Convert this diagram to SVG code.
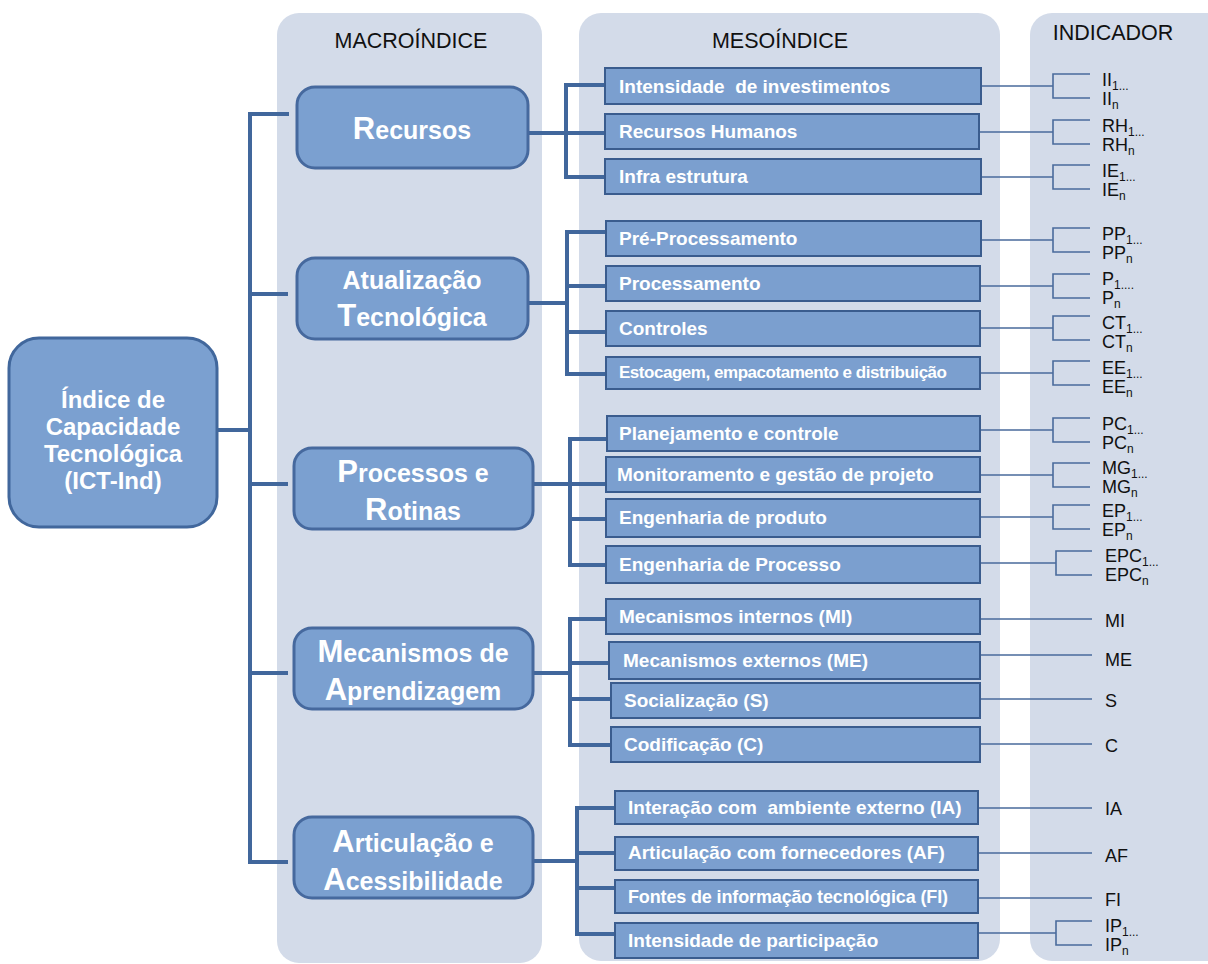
<svg xmlns="http://www.w3.org/2000/svg" width="1208" height="964" viewBox="0 0 1208 964">
<style>
.panel{fill:#D3DBE9}
.hdr{font-family:"Liberation Sans",Arial,sans-serif;font-size:21.5px;fill:#111;text-anchor:middle}
.root{fill:#7BA0D0;stroke:#41679C;stroke-width:3}
.macro{fill:#7BA0D0;stroke:#46699E;stroke-width:3}
.meso{fill:#7B9FCF;stroke:#3A5C8E;stroke-width:2}
.wt{font-family:"Liberation Sans",Arial,sans-serif;font-weight:bold;fill:#fff}
.ct{text-anchor:middle}
.rt{font-size:24px}
.mt{font-size:25px}
.cap{font-size:31px}
.st{font-size:19px}
.lk{fill:none;stroke:#41679C;stroke-width:4}
.ind{fill:none;stroke:#4A6B9C;stroke-width:1.6}
.it{font-family:"Liberation Sans",Arial,sans-serif;font-size:18px;fill:#111}
.sub{font-size:12px}
</style>

<!-- column panels -->
<g id="panels">
<rect class="panel" x="277" y="13" width="265" height="950" rx="22"/>
<rect class="panel" x="579" y="13" width="421" height="948" rx="22"/>
<rect class="panel" x="1030" y="13" width="200" height="948" rx="22"/>
<text class="hdr" x="411" y="48">MACROÍNDICE</text>
<text class="hdr" x="780" y="48">MESOÍNDICE</text>
<text class="hdr" x="1113" y="40">INDICADOR</text>
</g>

<!-- connectors -->
<g id="connectors">
<path class="lk" d="M217 430 H250"/>
<path class="lk" d="M289 114 H250 V862 H288 M250 294 H288 M250 484 H288 M250 673 H288"/>
<path class="lk" d="M605 85 H566 V177 H605 M528 133 H605"/>
<path class="lk" d="M606 232 H567 V374 H606 M528 303 H567 M567 286 H606 M567 332 H606"/>
<path class="lk" d="M607 439 H570 V565 H607 M533 484 H607 M570 519 H607"/>
<path class="lk" d="M606 619 H570 V745 H611 M533 673 H570 M570 663 H609 M570 699 H611"/>
<path class="lk" d="M615 808 H577 V934 H615 M533 861 H577 M577 853 H615 M577 888 H615"/>
<!-- indicator links -->
<path class="ind" d="M981 86 H1053 M1090 74 H1053 V98 H1090"/>
<path class="ind" d="M979 132 H1053 M1090 120 H1053 V144 H1090"/>
<path class="ind" d="M981 177 H1053 M1090 165 H1053 V189 H1090"/>
<path class="ind" d="M981 240 H1053 M1090 228 H1053 V252 H1090"/>
<path class="ind" d="M980 286 H1053 M1090 274 H1053 V298 H1090"/>
<path class="ind" d="M980 328 H1053 M1090 316 H1053 V340 H1090"/>
<path class="ind" d="M980 373 H1053 M1090 361 H1053 V385 H1090"/>
<path class="ind" d="M980 430 H1053 M1090 418 H1053 V442 H1090"/>
<path class="ind" d="M980 475 H1053 M1090 463 H1053 V487 H1090"/>
<path class="ind" d="M980 517 H1053 M1090 505 H1053 V529 H1090"/>
<path class="ind" d="M980 563 H1056 M1092 551 H1056 V575 H1092"/>
<path class="ind" d="M980 619 H1092 M980 655 H1092 M980 699 H1092 M980 744 H1092"/>
<path class="ind" d="M978 808 H1092 M978 853 H1092 M978 898 H1092"/>
<path class="ind" d="M978 933 H1056 M1092 921 H1056 V945 H1092"/>
</g>

<!-- root index -->
<g id="root">
<rect class="root" x="9" y="338" width="208" height="189" rx="30"/>
<text class="wt ct rt" x="113" y="408">Índice de</text>
<text class="wt ct rt" x="113" y="435">Capacidade</text>
<text class="wt ct rt" x="113" y="462">Tecnológica</text>
<text class="wt ct rt" x="113" y="489">(ICT-Ind)</text>
</g>

<!-- macro indices -->
<g id="macro-recursos">
<rect class="macro" x="297" y="87" width="231" height="81" rx="18"/>
<text class="wt ct mt" x="412" y="139"><tspan class="cap">R</tspan>ecursos</text>
</g>
<g id="macro-atualizacao">
<rect class="macro" x="297" y="258" width="231" height="81" rx="18"/>
<text class="wt ct mt" x="412" y="289">Atualização</text>
<text class="wt ct mt" x="412" y="326"><tspan class="cap">T</tspan>ecnológica</text>
</g>
<g id="macro-processos">
<rect class="macro" x="294" y="448" width="239" height="81" rx="18"/>
<text class="wt ct mt" x="413" y="482"><tspan class="cap">P</tspan>rocessos e</text>
<text class="wt ct mt" x="413" y="520"><tspan class="cap">R</tspan>otinas</text>
</g>
<g id="macro-mecanismos">
<rect class="macro" x="294" y="628" width="239" height="81" rx="18"/>
<text class="wt ct mt" x="413" y="662"><tspan class="cap">M</tspan>ecanismos de</text>
<text class="wt ct mt" x="413" y="700"><tspan class="cap">A</tspan>prendizagem</text>
</g>
<g id="macro-articulacao">
<rect class="macro" x="294" y="817" width="239" height="81" rx="18"/>
<text class="wt ct mt" x="413" y="852"><tspan class="cap">A</tspan>rticulação e</text>
<text class="wt ct mt" x="413" y="890"><tspan class="cap">A</tspan>cessibilidade</text>
</g>

<!-- meso indices -->
<g id="meso-ii"><rect class="meso" x="605" y="68" width="376" height="36"/><text class="wt st" x="619" y="93" xml:space="preserve">Intensidade  de investimentos</text></g>
<g id="meso-rh"><rect class="meso" x="605" y="114" width="374" height="35"/><text class="wt st" x="619" y="138">Recursos Humanos</text></g>
<g id="meso-ie"><rect class="meso" x="605" y="159" width="376" height="35"/><text class="wt st" x="619" y="183">Infra estrutura</text></g>

<g id="meso-pp"><rect class="meso" x="606" y="221" width="375" height="35"/><text class="wt st" x="619" y="245">Pré-Processamento</text></g>
<g id="meso-p"><rect class="meso" x="606" y="266" width="374" height="35"/><text class="wt st" x="619" y="290">Processamento</text></g>
<g id="meso-ct"><rect class="meso" x="606" y="311" width="374" height="35"/><text class="wt st" x="619" y="335">Controles</text></g>
<g id="meso-ee"><rect class="meso" x="606" y="357" width="374" height="32"/><text class="wt" x="619" y="378" font-size="17" textLength="328" lengthAdjust="spacing">Estocagem, empacotamento e distribuição</text></g>

<g id="meso-pc"><rect class="meso" x="607" y="416" width="373" height="35"/><text class="wt st" x="619" y="440">Planejamento e controle</text></g>
<g id="meso-mg"><rect class="meso" x="606" y="457" width="374" height="35"/><text class="wt st" x="617" y="481">Monitoramento e gestão de projeto</text></g>
<g id="meso-ep"><rect class="meso" x="606" y="499" width="374" height="38"/><text class="wt st" x="619" y="524">Engenharia de produto</text></g>
<g id="meso-epc"><rect class="meso" x="606" y="546" width="374" height="37"/><text class="wt st" x="619" y="571">Engenharia de Processo</text></g>

<g id="meso-mi"><rect class="meso" x="606" y="599" width="374" height="35"/><text class="wt st" x="619" y="623">Mecanismos internos (MI)</text></g>
<g id="meso-me"><rect class="meso" x="609" y="642" width="371" height="37"/><text class="wt st" x="623" y="667">Mecanismos externos (ME)</text></g>
<g id="meso-s"><rect class="meso" x="611" y="683" width="369" height="35"/><text class="wt st" x="624" y="707">Socialização (S)</text></g>
<g id="meso-c"><rect class="meso" x="611" y="727" width="369" height="35"/><text class="wt st" x="624" y="751">Codificação (C)</text></g>

<g id="meso-ia"><rect class="meso" x="615" y="791" width="363" height="33"/><text class="wt st" x="628" y="814" xml:space="preserve">Interação com  ambiente externo (IA)</text></g>
<g id="meso-af"><rect class="meso" x="615" y="837" width="363" height="33"/><text class="wt st" x="628" y="859">Articulação com fornecedores (AF)</text></g>
<g id="meso-fi"><rect class="meso" x="615" y="880" width="363" height="33"/><text class="wt" x="628" y="903" font-size="18" textLength="320" lengthAdjust="spacing">Fontes de informação tecnológica (FI)</text></g>
<g id="meso-ip"><rect class="meso" x="615" y="923" width="363" height="35"/><text class="wt st" x="628" y="947">Intensidade de participação</text></g>

<!-- indicators -->
<g id="ind-ii"><text class="it" x="1102" y="86">II<tspan class="sub" dy="4">1...</tspan></text><text class="it" x="1102" y="105">II<tspan class="sub" dy="4">n</tspan></text></g>
<g id="ind-rh"><text class="it" x="1102" y="132">RH<tspan class="sub" dy="4">1...</tspan></text><text class="it" x="1102" y="151">RH<tspan class="sub" dy="4">n</tspan></text></g>
<g id="ind-ie"><text class="it" x="1102" y="177">IE<tspan class="sub" dy="4">1...</tspan></text><text class="it" x="1102" y="196">IE<tspan class="sub" dy="4">n</tspan></text></g>
<g id="ind-pp"><text class="it" x="1102" y="240">PP<tspan class="sub" dy="4">1...</tspan></text><text class="it" x="1102" y="259">PP<tspan class="sub" dy="4">n</tspan></text></g>
<g id="ind-p"><text class="it" x="1102" y="285">P<tspan class="sub" dy="4">1....</tspan></text><text class="it" x="1102" y="304">P<tspan class="sub" dy="4">n</tspan></text></g>
<g id="ind-ct"><text class="it" x="1102" y="329">CT<tspan class="sub" dy="4">1...</tspan></text><text class="it" x="1102" y="348">CT<tspan class="sub" dy="4">n</tspan></text></g>
<g id="ind-ee"><text class="it" x="1102" y="374">EE<tspan class="sub" dy="4">1...</tspan></text><text class="it" x="1102" y="393">EE<tspan class="sub" dy="4">n</tspan></text></g>
<g id="ind-pc"><text class="it" x="1102" y="430">PC<tspan class="sub" dy="4">1...</tspan></text><text class="it" x="1102" y="449">PC<tspan class="sub" dy="4">n</tspan></text></g>
<g id="ind-mg"><text class="it" x="1102" y="474">MG<tspan class="sub" dy="4">1...</tspan></text><text class="it" x="1102" y="493">MG<tspan class="sub" dy="4">n</tspan></text></g>
<g id="ind-ep"><text class="it" x="1102" y="517">EP<tspan class="sub" dy="4">1...</tspan></text><text class="it" x="1102" y="536">EP<tspan class="sub" dy="4">n</tspan></text></g>
<g id="ind-epc"><text class="it" x="1105" y="562">EPC<tspan class="sub" dy="4">1...</tspan></text><text class="it" x="1105" y="581">EPC<tspan class="sub" dy="4">n</tspan></text></g>
<g id="ind-mi"><text class="it" x="1105" y="627">MI</text></g>
<g id="ind-me"><text class="it" x="1105" y="666">ME</text></g>
<g id="ind-s"><text class="it" x="1105" y="707">S</text></g>
<g id="ind-c"><text class="it" x="1105" y="752">C</text></g>
<g id="ind-ia"><text class="it" x="1105" y="815">IA</text></g>
<g id="ind-af"><text class="it" x="1105" y="862">AF</text></g>
<g id="ind-fi"><text class="it" x="1105" y="906">FI</text></g>
<g id="ind-ip"><text class="it" x="1105" y="932">IP<tspan class="sub" dy="4">1...</tspan></text><text class="it" x="1105" y="951">IP<tspan class="sub" dy="4">n</tspan></text></g>
</svg>
